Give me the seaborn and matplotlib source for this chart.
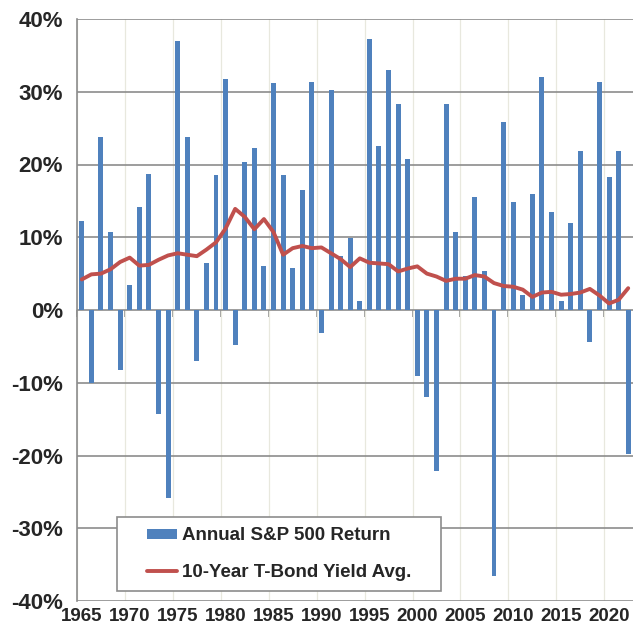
import matplotlib
matplotlib.use('Agg')
import matplotlib.pyplot as plt
from matplotlib.patches import Rectangle
import seaborn as sns
import pandas as pd

# Datos (%)
years = list(range(1965, 2023))
sp_return = [12.3, -10.1, 23.8, 10.7, -8.3, 3.5, 14.2, 18.7, -14.3, -25.9,
             37.0, 23.8, -7.0, 6.4, 18.5, 31.8, -4.8, 20.3, 22.3, 6.1,
             31.2, 18.5, 5.8, 16.5, 31.4, -3.1, 30.2, 7.4, 9.9, 1.3,
             37.2, 22.6, 33.0, 28.3, 20.8, -9.1, -11.9, -22.1, 28.3, 10.7,
             4.7, 15.5, 5.4, -36.6, 25.9, 14.8, 2.1, 15.9, 32.0, 13.5,
             1.3, 11.9, 21.8, -4.4, 31.4, 18.3, 21.9, -19.8]
bond_yield = [4.2, 4.9, 5.0, 5.6, 6.6, 7.2, 6.1, 6.2, 6.9, 7.5,
              7.8, 7.6, 7.4, 8.3, 9.3, 11.2, 13.9, 12.8, 11.1, 12.5,
              10.7, 7.6, 8.5, 8.8, 8.5, 8.6, 7.8, 7.0, 5.9, 7.1,
              6.5, 6.4, 6.3, 5.3, 5.7, 6.0, 5.0, 4.6, 4.0, 4.3,
              4.3, 4.8, 4.6, 3.7, 3.3, 3.2, 2.8, 1.8, 2.4, 2.5,
              2.1, 2.2, 2.4, 2.9, 2.0, 0.9, 1.4, 3.0]
x_labels = [str(y) for y in range(1965, 2021, 5)]
y_ticks = list(range(-40, 41, 10))
y_labels = [f'{v}%' for v in y_ticks]

BLUE = '#4F81BD'
RED = '#C0504D'
GRAY = '#8C8C8C'

sns.set_style('white')
plt.rcParams['font.family'] = ['Liberation Sans', 'DejaVu Sans']
plt.rcParams['font.weight'] = 'bold'

df = pd.DataFrame({'Year': years, 'Return': sp_return, 'Yield': bond_yield})

fig = plt.figure(figsize=(6.33, 6.26), dpi=100)
ax = fig.add_axes([77 / 633, 25 / 626, 556 / 633, 582 / 626])

sns.barplot(data=df, x='Year', y='Return', native_scale=True, width=0.52,
            color=BLUE, saturation=1, errorbar=None, linewidth=0,
            label='Annual S&P 500 Return', ax=ax, zorder=2)
sns.lineplot(data=df, x='Year', y='Yield', color=RED, linewidth=2.8,
             label='10-Year T-Bond Yield Avg.', ax=ax, zorder=3)

ax.set_xlim(1964.5, 2022.5)
ax.set_ylim(-40, 40)
ax.set_xlabel('')
ax.set_ylabel('')

# ejes y rejilla
ax.set_xticks([int(s) for s in x_labels], labels=x_labels, fontsize=13.5, fontweight='bold')
bounds = [int(s) - 0.5 for s in x_labels]
ax.set_xticks(bounds, minor=True)
ax.tick_params(axis='x', which='both', length=0, pad=5)
ax.set_yticks(y_ticks, labels=y_labels, fontsize=16, fontweight='bold')
ax.tick_params(axis='y', length=5, width=1.2, color=GRAY, direction='out', pad=5)
ax.set_axisbelow(True)
ax.grid(False)
ax.grid(axis='y', which='major', color=GRAY, lw=1.2)
ax.grid(axis='x', which='minor', color='#E8E8DE', lw=0.9)

for s in ['top', 'right', 'bottom']:
    ax.spines[s].set_visible(False)
ax.spines['left'].set_color(GRAY)
ax.spines['left'].set_linewidth(1.2)

# marcas en la línea del cero
sec = ax.secondary_xaxis(0.5)
sec.set_alignment('bottom')
sec.set_xticks(bounds)
sec.tick_params(axis='x', labelbottom=False, length=5, width=1.2, color=GRAY, direction='out')
sec.spines['bottom'].set_visible(False)

# leyenda: marco propio y contenido centrado
box = (0.072, 0.017, 0.583, 0.127)
ax.add_patch(Rectangle(box[:2], box[2], box[3], transform=ax.transAxes,
                       facecolor='white', edgecolor=GRAY, lw=1.2, zorder=4))
handles, labels = ax.get_legend_handles_labels()
order = [labels.index('Annual S&P 500 Return'), labels.index('10-Year T-Bond Yield Avg.')]
ax.legend([handles[i] for i in order], [labels[i] for i in order],
          loc='center', bbox_to_anchor=box, borderaxespad=0, frameon=False,
          prop={'size': 13.5, 'weight': 'bold'}, handlelength=1.6, handleheight=0.45,
          handletextpad=0.25, labelspacing=1.05, borderpad=0)

fig.savefig('out.png', dpi=100)
